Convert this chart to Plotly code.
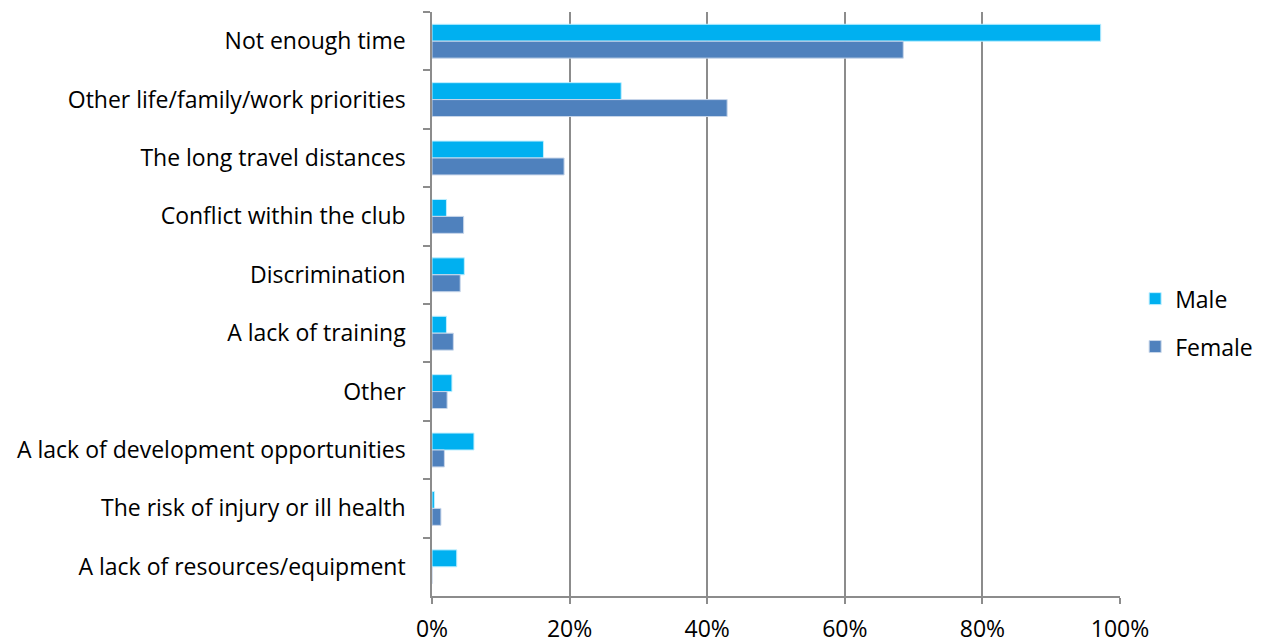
import plotly.graph_objects as go

categories = [
    "Not enough time",
    "Other life/family/work priorities",
    "The long travel distances",
    "Conflict within the club",
    "Discrimination",
    "A lack of training",
    "Other",
    "A lack of development opportunities",
    "The risk of injury or ill health",
    "A lack of resources/equipment",
]
male = [97.2, 27.5, 16.2, 2.1, 4.7, 2.1, 2.9, 6.1, 0.35, 3.6]
female = [68.5, 42.9, 19.2, 4.6, 4.1, 3.1, 2.2, 1.8, 1.3, 0.0]
x_ticks = [0, 20, 40, 60, 80, 100]
x_tick_labels = ["0%", "20%", "40%", "60%", "80%", "100%"]

FONT = "Open Sans, Lato, sans-serif"
FS = 23

fig = go.Figure()
fig.add_trace(go.Bar(
    y=categories, x=male, name="Male", orientation="h",
    marker=dict(color="#00B0F0", line=dict(color="#BFEFFF", width=1)),
    legendgroup="m",
))
fig.add_trace(go.Bar(
    y=categories, x=female, name="Female", orientation="h",
    marker=dict(color="#4F81BD", line=dict(color="#C9D7EA", width=1)),
    legendgroup="f",
))

fig.update_layout(
    width=1268, height=643,
    margin=dict(l=432, r=148, t=12, b=47, autoexpand=False),
    paper_bgcolor="white", plot_bgcolor="white",
    barmode="group", bargap=0.42, bargroupgap=0,
    font=dict(family=FONT, size=FS, color="#000000"),
    legend=dict(
        x=1.022, y=0.468, xanchor="left", yanchor="middle",
        traceorder="grouped", tracegroupgap=15,
        font=dict(size=FS), itemwidth=30,
    ),
    xaxis=dict(
        range=[0, 100], tickvals=x_ticks, ticktext=x_tick_labels,
        showgrid=True, gridcolor="#8C8C8C", gridwidth=1.5,
        showline=True, linecolor="#8C8C8C", linewidth=1.5,
        ticks="outside", ticklen=6, tickcolor="#8C8C8C", tickwidth=1.5,
        zeroline=False, tickfont=dict(size=FS), ticklabelstandoff=6,
        automargin=False,
    ),
    yaxis=dict(
        autorange="reversed", type="category",
        showline=True, linecolor="#8C8C8C", linewidth=1.5,
        ticks="outside", ticklen=7, tickcolor="#8C8C8C", tickwidth=1.5,
        tickson="boundaries", showgrid=False, tickfont=dict(size=FS),
        ticklabelstandoff=20, automargin=False,
    ),
)

fig.write_html("out.html")
